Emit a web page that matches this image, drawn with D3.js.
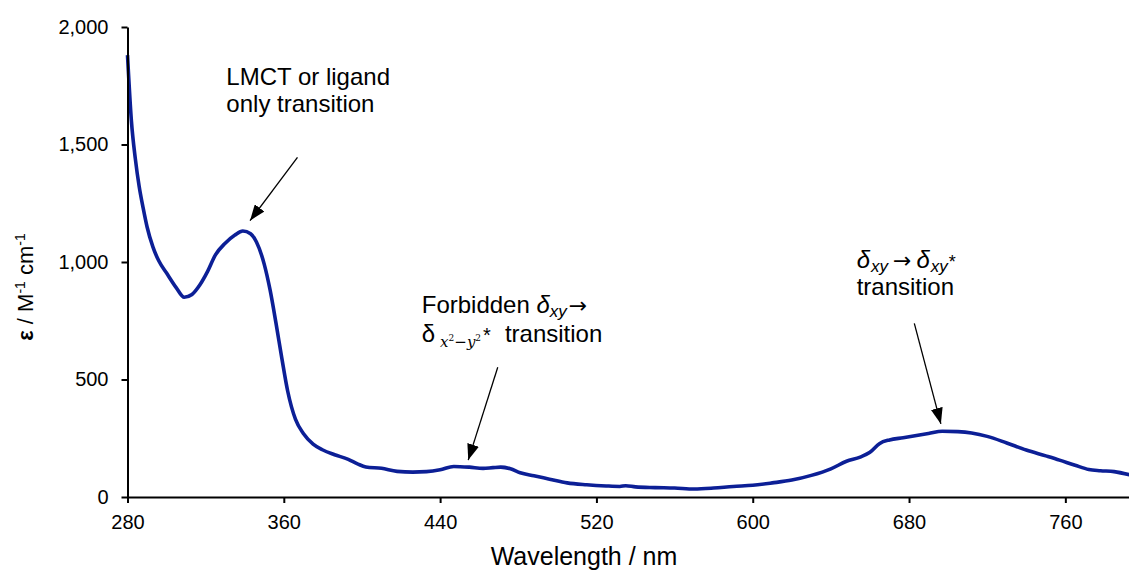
<!DOCTYPE html>
<html>
<head>
<meta charset="utf-8">
<script src="https://cdn.jsdelivr.net/npm/d3@7"></script>
<style>
  body { margin: 0; background: #fff; }
  svg { font-family: "Liberation Sans", Arial, sans-serif; }
  .axis path, .axis line { stroke: #000; stroke-width: 2; }
  .axis text { fill: #000; }
</style>
</head>
<body>
<svg id="spectrum" width="1129" height="570"></svg>
<script>
// wavelength (nm) and molar absorptivity
const wavelength = [280, 282, 284, 286, 288, 290, 293, 296, 300, 305, 309, 313, 317, 321, 325, 330, 335, 339,
  343, 346, 350, 353, 356, 359, 362, 366, 370, 375, 380, 386, 393, 398, 402, 410, 418, 426, 433, 440, 447,
  455, 462, 467, 471, 476, 481, 488, 496, 505, 515, 525, 532, 535, 540, 550, 560, 570, 580, 590, 600, 610,
  620, 630, 640, 648, 655, 660, 665, 670, 677, 690, 697, 705, 712, 720, 730, 740, 750, 757, 765, 772, 778,
  785, 793];
const epsilon = [1880, 1600, 1440, 1320, 1230, 1150, 1064, 1005, 953, 890, 850, 862, 902, 960, 1030, 1080, 1115, 1132,
  1120, 1085, 990, 880, 740, 590, 450, 330, 270, 225, 200, 180, 160, 140, 128, 122, 109, 106, 108, 116, 130,
  127, 122, 125, 127, 120, 103, 90, 76, 60, 52, 47, 45, 48, 43, 40, 38, 34, 38, 45, 50, 60,
  72, 92, 120, 152, 170, 190, 228, 243, 252, 270, 280, 278, 272, 258, 230, 200, 175, 157, 135, 117, 112,
  108, 94];

const xTicks = [280, 360, 440, 520, 600, 680, 760];
const yTicks = [0, 500, 1000, 1500, 2000];

// arrows: tail -> tip, in data units
const arrowTail = [[367, 1445], [469.5, 552], [682.7, 739]];
const arrowTip = [[342.7, 1176], [454.4, 157], [696.3, 311]];

const margin = { top: 27, left: 127.5, bottom: 73 };
const svg = d3.select("svg#spectrum"),
  height = +svg.attr("height") - margin.top - margin.bottom;

const x = d3.scaleLinear().domain([280, 800]).range([margin.left, margin.left + 1016]);
const y = d3.scaleLinear().domain([0, 2000]).range([margin.top + height, margin.top]);

svg.append("defs").append("marker")
  .attr("id", "head")
  .attr("markerUnits", "userSpaceOnUse")
  .attr("viewBox", "0 0 16 12")
  .attr("refX", 16).attr("refY", 6)
  .attr("markerWidth", 16).attr("markerHeight", 12)
  .attr("orient", "auto")
  .append("path")
  .attr("d", "M0,0L16,6L0,12Z")
  .attr("fill", "#000");

const data = wavelength.map((w, i) => ({ w: w, e: epsilon[i] }));

const line = d3.line()
  .x(d => x(d.w))
  .y(d => y(d.e))
  .curve(d3.curveMonotoneX);

svg.append("path")
  .datum(data)
  .attr("fill", "none")
  .attr("stroke", "#0c1f96")
  .attr("stroke-width", 3.6)
  .attr("stroke-linejoin", "round")
  .attr("d", line);

svg.append("g")
  .attr("class", "axis")
  .attr("transform", `translate(0, ${y(0)})`)
  .call(d3.axisBottom(x).tickValues(xTicks).tickSize(6).tickSizeOuter(0).tickPadding(12))
  .call(g => g.selectAll("text").style("font-size", "20px"));

svg.append("g")
  .attr("class", "axis")
  .attr("transform", `translate(${margin.left}, 0)`)
  .call(d3.axisLeft(y).tickValues(yTicks).tickSize(6).tickSizeOuter(0).tickPadding(13).tickFormat(d3.format(",")))
  .call(g => g.selectAll("text").style("font-size", "20px"));

// axis titles
svg.append("text")
  .attr("x", 584)
  .attr("y", 565)
  .attr("text-anchor", "middle")
  .style("font-size", "25px")
  .text("Wavelength / nm");

const yTitle = svg.append("text")
  .attr("transform", "translate(33, 287) rotate(-90)")
  .attr("text-anchor", "middle")
  .style("font-size", "22px");
yTitle.append("tspan").style("font-weight", "bold").text("ε");
yTitle.append("tspan").text(" / M");
yTitle.append("tspan").attr("dy", -8).style("font-size", "14px").text("-1");
yTitle.append("tspan").attr("dy", 8).text("  cm");
yTitle.append("tspan").attr("dy", -8).style("font-size", "14px").text("-1");

// arrows
svg.selectAll(".arrow")
  .data(arrowTail)
  .enter().append("line")
  .attr("class", "arrow")
  .attr("x1", d => x(d[0]))
  .attr("y1", d => y(d[1]))
  .attr("x2", (d, i) => x(arrowTip[i][0]))
  .attr("y2", (d, i) => y(arrowTip[i][1]))
  .attr("stroke", "#000")
  .attr("stroke-width", 1.3)
  .attr("marker-end", "url(#head)");

// annotation labels
const note = svg.append("g").style("font-size", "24px").attr("fill", "#000");
const arrowFont = "'DejaVu Sans', sans-serif";

const n1 = note.append("text").attr("x", x(330.6)).attr("y", y(1753));
n1.append("tspan").text("LMCT or ligand");
n1.append("tspan").attr("x", x(330.6)).attr("dy", 26.7).text("only transition");

const n2 = note.append("text").attr("x", x(430.6)).attr("y", y(782));
n2.append("tspan").text("Forbidden ");
n2.append("tspan").style("font-style", "italic").text("δ");
n2.append("tspan").style("font-style", "italic").style("font-size", "17px").attr("dy", 4).text("xy");
n2.append("tspan").attr("dy", -4).attr("dx", 2).style("font-family", arrowFont).style("font-size", "22px").text("→");
const l2 = note.append("text").attr("x", x(430.6)).attr("y", y(782) + 28.4);
l2.append("tspan").text("δ");
l2.append("tspan").attr("dy", 5).attr("dx", 5)
  .style("font-family", "'DejaVu Serif', serif").style("font-style", "italic").style("font-size", "15px").text("x");
l2.append("tspan").attr("dy", -6)
  .style("font-family", "'DejaVu Serif', serif").style("font-size", "9px").text("2");
l2.append("tspan").attr("dy", 6)
  .style("font-family", "'DejaVu Serif', serif").style("font-size", "15px").text("−");
l2.append("tspan")
  .style("font-family", "'DejaVu Serif', serif").style("font-style", "italic").style("font-size", "15px").text("y");
l2.append("tspan").attr("dy", -6)
  .style("font-family", "'DejaVu Serif', serif").style("font-size", "9px").text("2");
l2.append("tspan").attr("dy", 1).attr("dx", 2).style("font-size", "20px").text("*");
l2.append("tspan").attr("dy", 0).attr("dx", 14).text("transition");

const n3 = note.append("text").attr("x", x(653.2)).attr("y", y(973));
n3.append("tspan").style("font-style", "italic").text("δ");
n3.append("tspan").style("font-style", "italic").style("font-size", "17px").attr("dy", 4).attr("dx", 1).text("xy");
n3.append("tspan").attr("dy", -4).attr("dx", 5).style("font-family", arrowFont).style("font-size", "22px").text("→");
n3.append("tspan").attr("dx", 5).style("font-style", "italic").text("δ");
n3.append("tspan").style("font-style", "italic").style("font-size", "17px").attr("dy", 4).attr("dx", 1).text("xy");
n3.append("tspan").attr("dy", -4).attr("dx", 1).style("font-size", "18px").text("*");
n3.append("tspan").attr("x", x(653.2)).attr("dy", 27).text("transition");
</script>
</body>
</html>
